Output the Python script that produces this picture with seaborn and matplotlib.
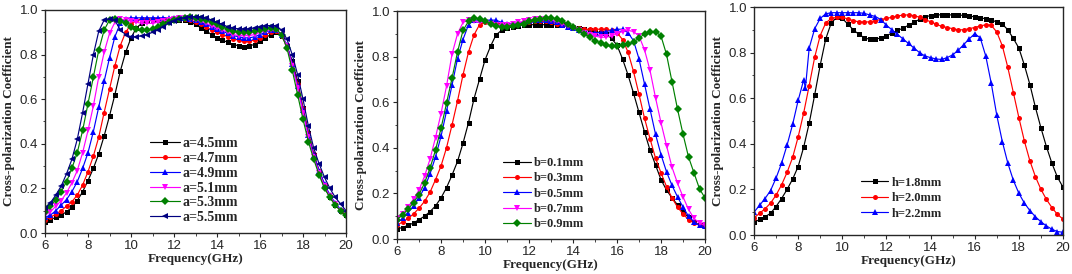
import numpy as np
import pandas as pd
import matplotlib
matplotlib.use("Agg")
import matplotlib.pyplot as plt
from matplotlib.ticker import MultipleLocator
from matplotlib.font_manager import FontProperties
import seaborn as sns

sns.set_style("ticks")
plt.rcParams['font.family'] = ['Liberation Sans', 'DejaVu Sans']

# ---------------- data ----------------
freq = np.arange(6, 20.001, 0.25)  # GHz sampling grid

# panel (a): patch size a
a45 = [0.05,0.06,0.07,0.08,0.095,0.115,0.145,0.185,
       0.235,0.29,0.355,0.435,0.525,0.62,0.725,0.81,
       0.875,0.92,0.94,0.95,0.955,0.955,0.955,0.955,
       0.955,0.955,0.955,0.945,0.935,0.92,0.905,0.89,
       0.875,0.865,0.855,0.845,0.84,0.835,0.84,0.845,
       0.86,0.875,0.89,0.9,0.885,0.84,0.77,0.68,
       0.56,0.45,0.35,0.27,0.205,0.16,0.125,0.1,
       0.08]
a47 = [0.06,0.07,0.085,0.1,0.12,0.14,0.17,0.215,
       0.275,0.345,0.43,0.54,0.645,0.75,0.84,0.9,
       0.935,0.955,0.96,0.96,0.96,0.96,0.96,0.96,
       0.96,0.96,0.96,0.955,0.945,0.935,0.925,0.91,
       0.9,0.89,0.88,0.87,0.865,0.86,0.86,0.865,
       0.875,0.89,0.9,0.905,0.885,0.84,0.76,0.67,
       0.56,0.45,0.355,0.28,0.215,0.165,0.13,0.1,
       0.085]
a49 = [0.07,0.08,0.1,0.125,0.15,0.185,0.23,0.29,
       0.36,0.455,0.565,0.68,0.785,0.88,0.94,0.96,
       0.965,0.965,0.965,0.965,0.965,0.965,0.965,0.965,
       0.965,0.965,0.965,0.96,0.955,0.945,0.935,0.925,
       0.915,0.905,0.895,0.885,0.88,0.875,0.875,0.88,
       0.89,0.9,0.91,0.91,0.89,0.845,0.76,0.66,
       0.55,0.44,0.35,0.28,0.22,0.17,0.135,0.105,
       0.09]
a51 = [0.08,0.095,0.12,0.145,0.18,0.225,0.28,0.36,
       0.46,0.57,0.7,0.81,0.895,0.945,0.96,0.955,
       0.95,0.945,0.94,0.94,0.94,0.945,0.95,0.955,
       0.96,0.965,0.965,0.96,0.955,0.95,0.94,0.93,
       0.92,0.91,0.9,0.89,0.885,0.885,0.885,0.89,
       0.9,0.905,0.91,0.91,0.89,0.84,0.75,0.65,
       0.54,0.43,0.34,0.27,0.21,0.165,0.13,0.1,
       0.085]
a53 = [0.095,0.12,0.15,0.185,0.23,0.29,0.36,0.46,
       0.58,0.7,0.82,0.91,0.955,0.96,0.95,0.94,
       0.925,0.915,0.91,0.91,0.915,0.925,0.935,0.945,
       0.955,0.96,0.965,0.97,0.965,0.96,0.955,0.945,
       0.935,0.925,0.915,0.905,0.9,0.9,0.9,0.905,
       0.91,0.915,0.92,0.915,0.89,0.83,0.73,0.62,
       0.51,0.41,0.33,0.26,0.2,0.16,0.125,0.1,
       0.08]
a55 = [0.11,0.135,0.17,0.21,0.265,0.33,0.42,0.54,
       0.67,0.8,0.905,0.955,0.96,0.955,0.91,0.89,
       0.88,0.88,0.885,0.89,0.9,0.91,0.925,0.94,
       0.95,0.96,0.965,0.97,0.97,0.97,0.965,0.955,
       0.945,0.935,0.925,0.92,0.915,0.915,0.915,0.92,
       0.925,0.93,0.93,0.93,0.91,0.87,0.8,0.71,
       0.6,0.48,0.38,0.31,0.25,0.2,0.16,0.13,
       0.1]

# panel (b): gap b
b01 = [0.045,0.05,0.06,0.07,0.085,0.1,0.12,0.145,
       0.18,0.225,0.28,0.34,0.42,0.51,0.615,0.7,
       0.785,0.845,0.895,0.915,0.925,0.93,0.935,0.94,
       0.94,0.94,0.94,0.94,0.94,0.94,0.94,0.935,
       0.93,0.925,0.92,0.915,0.91,0.905,0.9,0.88,
       0.85,0.79,0.72,0.64,0.555,0.47,0.39,0.325,
       0.26,0.215,0.18,0.15,0.12,0.095,0.075,0.06,
       0.055]
b03 = [0.06,0.075,0.09,0.11,0.135,0.165,0.205,0.26,
       0.32,0.4,0.5,0.605,0.72,0.82,0.895,0.94,
       0.95,0.95,0.945,0.945,0.945,0.945,0.945,0.95,
       0.95,0.955,0.955,0.955,0.95,0.945,0.94,0.935,
       0.93,0.925,0.92,0.92,0.92,0.92,0.92,0.915,
       0.905,0.875,0.82,0.735,0.635,0.53,0.44,0.355,
       0.29,0.23,0.18,0.14,0.11,0.085,0.07,0.06,
       0.055]
b05 = [0.07,0.09,0.115,0.145,0.18,0.225,0.285,0.36,
       0.45,0.56,0.675,0.79,0.875,0.94,0.96,0.96,
       0.96,0.96,0.96,0.95,0.945,0.945,0.945,0.95,
       0.955,0.96,0.96,0.96,0.955,0.95,0.94,0.93,
       0.925,0.915,0.91,0.905,0.905,0.905,0.91,0.915,
       0.92,0.92,0.905,0.87,0.79,0.68,0.57,0.46,
       0.37,0.295,0.235,0.185,0.14,0.1,0.075,0.06,
       0.055]
b07 = [0.09,0.11,0.14,0.175,0.215,0.275,0.35,0.445,
       0.55,0.67,0.81,0.9,0.95,0.96,0.955,0.95,
       0.95,0.945,0.94,0.94,0.94,0.945,0.95,0.955,
       0.96,0.965,0.965,0.965,0.96,0.955,0.945,0.935,
       0.925,0.915,0.905,0.895,0.89,0.885,0.885,0.89,
       0.9,0.91,0.915,0.91,0.89,0.83,0.74,0.62,
       0.51,0.41,0.315,0.245,0.185,0.13,0.09,0.07,
       0.06]
b09 = [0.085,0.105,0.13,0.16,0.195,0.245,0.31,0.39,
       0.485,0.595,0.705,0.82,0.915,0.955,0.97,0.965,
       0.955,0.945,0.935,0.93,0.93,0.935,0.94,0.945,
       0.955,0.96,0.965,0.97,0.97,0.965,0.955,0.945,
       0.93,0.915,0.9,0.885,0.87,0.86,0.85,0.845,
       0.845,0.85,0.855,0.865,0.88,0.9,0.91,0.91,
       0.89,0.81,0.69,0.57,0.46,0.36,0.29,0.22,
       0.18]

# panel (c): thickness h
h18 = [0.055,0.068,0.08,0.095,0.125,0.16,0.2,0.245,
       0.3,0.385,0.49,0.615,0.745,0.86,0.93,0.955,
       0.95,0.925,0.9,0.88,0.865,0.858,0.858,0.865,
       0.875,0.885,0.897,0.907,0.92,0.933,0.946,0.957,
       0.962,0.965,0.966,0.966,0.965,0.965,0.963,0.96,
       0.957,0.953,0.948,0.942,0.935,0.925,0.9,0.862,
       0.82,0.745,0.66,0.56,0.47,0.387,0.314,0.253,
       0.21]
h20 = [0.075,0.095,0.115,0.14,0.175,0.22,0.275,0.34,
       0.43,0.535,0.655,0.78,0.875,0.93,0.95,0.955,
       0.955,0.948,0.94,0.935,0.934,0.935,0.94,0.945,
       0.95,0.955,0.96,0.965,0.965,0.962,0.955,0.945,
       0.935,0.925,0.915,0.91,0.905,0.9,0.9,0.905,
       0.91,0.917,0.922,0.92,0.89,0.83,0.735,0.625,
       0.515,0.412,0.325,0.256,0.2,0.156,0.12,0.09,
       0.07]
freq_h22 = [6.0,6.25,6.5,6.75,7.0,7.25,7.5,7.75,8.0,8.25,8.33,
            8.5,8.75,9.0,9.25,9.5,9.75,
            10.0,10.25,10.5,10.75,11.0,11.25,11.5,11.75,
            12.0,12.25,12.5,12.75,13.0,13.25,13.5,13.75,
            14.0,14.25,14.5,14.75,15.0,15.25,15.5,15.75,
            16.0,16.25,16.5,16.75,17.0,17.25,17.5,17.75,
            18.0,18.25,18.5,18.75,19.0,19.25,19.5,19.75,20.0]
h22 = [0.1,0.13,0.16,0.195,0.25,0.315,0.395,0.485,0.59,0.68,0.645,
       0.82,0.905,0.95,0.97,0.975,0.975,
       0.975,0.975,0.975,0.975,0.972,0.965,0.958,0.945,
       0.92,0.9,0.88,0.86,0.84,0.82,0.8,0.785,
       0.778,0.772,0.77,0.778,0.79,0.81,0.835,0.86,
       0.883,0.865,0.785,0.665,0.525,0.41,0.315,0.24,
       0.183,0.14,0.107,0.08,0.058,0.04,0.025,0.015,0.012]

labels_a = ["a=4.5mm", "a=4.7mm", "a=4.9mm", "a=5.1mm", "a=5.3mm", "a=5.5mm"]
labels_b = ["b=0.1mm", "b=0.3mm", "b=0.5mm", "b=0.7mm", "b=0.9mm"]
labels_h = ["h=1.8mm", "h=2.0mm", "h=2.2mm"]

# ---------------- styles ----------------
colors6 = ["#000000", "#ff0000", "#0000ff", "#ff00ff", "#008000", "#000080"]
markers6 = ["s", "o", "^", "v", "D", "<"]

panels = [
    dict(pos=[45/1072, 41/274, 301/1072, 223/274],
         series=[(freq, a45), (freq, a47), (freq, a49), (freq, a51), (freq, a53), (freq, a55)],
         labels=labels_a, leg=(0.35, 0.43), hl=2.1, fs=10.0, ls=0.13),
    dict(pos=[397/1072, 35/274, 308/1072, 228/274],
         series=[(freq, b01), (freq, b03), (freq, b05), (freq, b07), (freq, b09)],
         labels=labels_b, leg=(0.345, 0.36), hl=2.2, fs=9.0, ls=0.27),
    dict(pos=[754/1072, 39/274, 309/1072, 228/274],
         series=[(freq, h18), (freq, h20), (freq_h22, h22)],
         labels=labels_h, leg=(0.346, 0.255), hl=2.2, fs=9.0, ls=0.27),
]

fig = plt.figure(figsize=(10.72, 2.74), dpi=100)
serif_family = ['Liberation Serif', 'DejaVu Serif']
label_font = FontProperties(family=serif_family, weight='bold', size=9.5)

for p in panels:
    ax = fig.add_axes(p["pos"])
    for i, ((fx, fy), lab) in enumerate(zip(p["series"], p["labels"])):
        df = pd.DataFrame({"Frequency": fx, "Coef": fy})
        ms = 4.2 if markers6[i] in ("^", "v", "<") else 3.6
        sns.lineplot(data=df, x="Frequency", y="Coef", ax=ax, color=colors6[i],
                     marker=markers6[i], markersize=ms, markeredgewidth=0,
                     linewidth=0.85, label=lab, sort=False)
    ax.set_xlim(6, 20)
    ax.set_ylim(0, 1.0)
    ax.xaxis.set_major_locator(MultipleLocator(2))
    ax.xaxis.set_minor_locator(MultipleLocator(1))
    ax.yaxis.set_major_locator(MultipleLocator(0.2))
    ax.yaxis.set_minor_locator(MultipleLocator(0.1))
    ax.tick_params(which='major', direction='out', length=3, width=0.8, labelsize=9.5, pad=2)
    ax.tick_params(which='minor', direction='out', length=1.8, width=0.6)
    ax.set_yticks(np.arange(0, 1.01, 0.2))
    ax.set_yticklabels([f"{v:.1f}" for v in np.arange(0, 1.01, 0.2)])
    for s in ax.spines.values():
        s.set_linewidth(1.0)
        s.set_visible(True)
    ax.set_xlabel("Frequency(GHz)", fontproperties=label_font, labelpad=1)
    ax.set_ylabel("Cross-polarization Coefficient", fontproperties=label_font, labelpad=3)
    leg_font = FontProperties(family=serif_family, weight='bold', size=p["fs"])
    ax.legend(loc="upper left", bbox_to_anchor=p["leg"], frameon=False, prop=leg_font,
              handlelength=p["hl"], handletextpad=0.25, labelspacing=p["ls"],
              borderaxespad=0, borderpad=0, numpoints=1)

fig.savefig("out.png", dpi=100)
